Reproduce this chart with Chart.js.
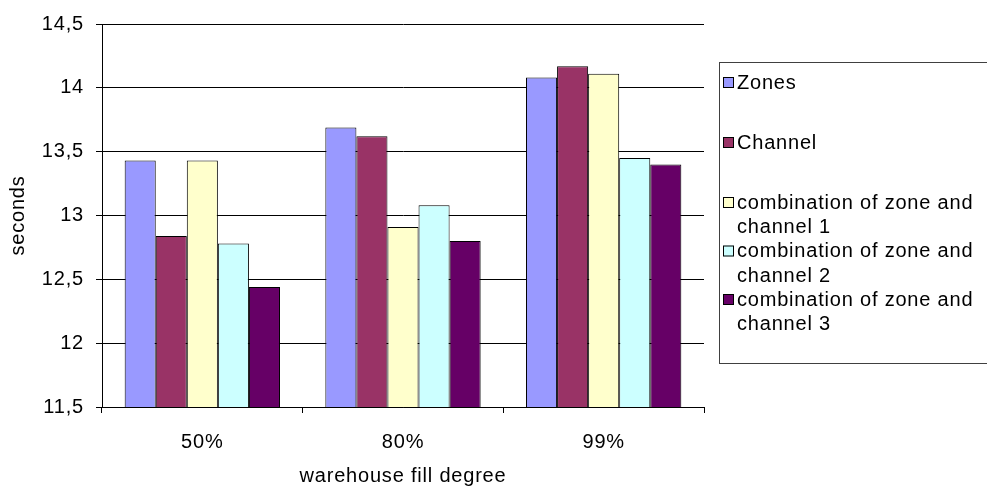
<!DOCTYPE html>
<html>
<head>
<meta charset="utf-8">
<script src="https://cdn.jsdelivr.net/npm/chart.js@4.4.1/dist/chart.umd.min.js"></script>
<style>
    html, body { margin: 0; padding: 0; background: #fff; }
    #wrap { width: 987px; height: 488px; }
</style>
</head>
<body>
<div id="wrap"><canvas id="chart" width="987" height="488"></canvas></div>
<script>
// data
const categories = ['50%', '80%', '99%'];
const seriesNames = [
    ['Zones'],
    ['Channel'],
    ['combination of zone and', 'channel 1'],
    ['combination of zone and', 'channel 2'],
    ['combination of zone and', 'channel 3']
];
const zones = [13.43, 13.69, 14.08];
const channel = [12.84, 13.62, 14.17];
const combination1 = [13.43, 12.91, 14.11];
const combination2 = [12.78, 13.08, 13.45];
const combination3 = [12.44, 12.80, 13.40];
const yMin = 11.5;
const yMax = 14.5;
const yStep = 0.5;

const SERIES_COLORS = ['#9999ff', '#993366', '#ffffcc', '#ccffff', '#660066'];
const FONT = { family: "'Liberation Sans', Arial, sans-serif", size: 20 };
const SPACING = '0.8px';

// legend item text centres (first line) in the boxed legend on the right
const LEGEND_ROWS = [82, 142, 202, 250.5, 299];
const LEGEND_LINE = 24.5;

const boxLegend = {
    id: 'boxLegend',
    beforeDraw(chart) {
        chart.ctx.letterSpacing = SPACING;
    },
    afterDraw(chart) {
        const ctx = chart.ctx;
        ctx.save();
        ctx.letterSpacing = SPACING;
        ctx.strokeStyle = '#404040';
        ctx.lineWidth = 1;
        ctx.strokeRect(719.5, 62.5, 300, 301);
        ctx.font = `${FONT.size}px ${FONT.family}`;
        ctx.textBaseline = 'middle';
        chart.data.datasets.forEach((ds, i) => {
            const y = LEGEND_ROWS[i];
            ctx.fillStyle = ds.backgroundColor;
            ctx.fillRect(723, y - 5, 11, 11);
            ctx.strokeStyle = '#000';
            ctx.strokeRect(723.5, y - 4.5, 10, 10);
            ctx.fillStyle = '#000';
            ds.legendLines.forEach((line, k) => {
                ctx.fillText(line, 737, y + k * LEGEND_LINE + 1);
            });
        });
        ctx.restore();
    }
};

const seriesData = [zones, channel, combination1, combination2, combination3];

const datasets = seriesData.map((data, i) => ({
    label: seriesNames[i].join(' '),
    legendLines: seriesNames[i],
    data,
    backgroundColor: SERIES_COLORS[i],
    borderColor: '#000',
    borderWidth: 1,
    borderSkipped: false,
    categoryPercentage: 0.774,
    barPercentage: 1
}));

new Chart(document.getElementById('chart').getContext('2d'), {
    type: 'bar',
    data: { labels: categories, datasets },
    plugins: [boxLegend],
    options: {
        responsive: false,
        animation: false,
        devicePixelRatio: 1,
        layout: { padding: { top: 20, right: 283, left: 0, bottom: 0 } },
        plugins: {
            legend: { display: false },
            tooltip: { enabled: false }
        },
        scales: {
            x: {
                grid: { display: true, drawOnChartArea: false, drawTicks: true, tickLength: 6, color: '#000', offset: true },
                border: { display: true, color: '#000' },
                ticks: { color: '#000', font: FONT, padding: 17 },
                title: {
                    display: true,
                    text: 'warehouse fill degree',
                    color: '#000',
                    font: FONT,
                    padding: { top: 0, bottom: 0 }
                },
                afterFit: s => { s.height = 81; }
            },
            y: {
                min: yMin,
                max: yMax,
                grid: { color: '#000', tickLength: 6 },
                border: { display: true, color: '#000' },
                ticks: {
                    stepSize: yStep,
                    color: '#000',
                    font: FONT,
                    padding: 12,
                    callback: v => String(v).replace('.', ',')
                },
                title: {
                    display: true,
                    text: 'seconds',
                    color: '#000',
                    font: FONT,
                    padding: { top: 6, bottom: 0 }
                },
                afterFit: s => { s.width = 102; }
            }
        }
    }
});
</script>
</body>
</html>
